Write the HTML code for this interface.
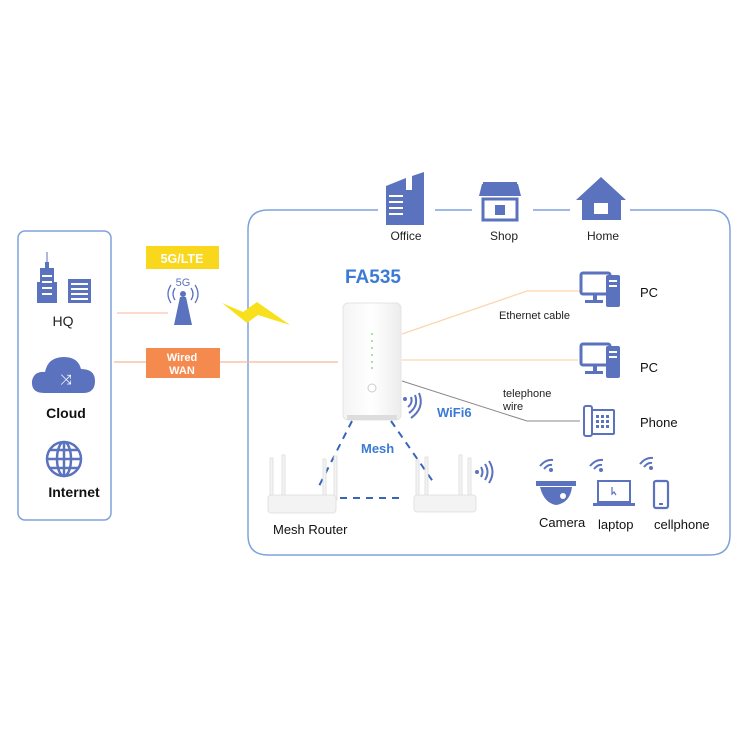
<!DOCTYPE html>
<html><head><meta charset="utf-8"><style>
html,body{margin:0;padding:0;background:#fff}
svg{display:block}
text{font-family:"Liberation Sans",sans-serif}
</style></head><body>
<svg width="750" height="750" viewBox="0 0 750 750" xmlns="http://www.w3.org/2000/svg">
<defs>
<linearGradient id="rg" x1="0" x2="1"><stop offset="0" stop-color="#f4f4f4"/><stop offset="0.5" stop-color="#fff"/><stop offset="1" stop-color="#ececec"/></linearGradient>
</defs>
<!-- left box -->
<rect x="18" y="231" width="93" height="289" rx="7" fill="none" stroke="#7ea3dc" stroke-width="1.5"/>
<!-- right box with gaps -->
<path d="M378 210 H268 Q248 210 248 230 V535 Q248 555 268 555 H710 Q730 555 730 535 V230 Q730 210 710 210 H630" fill="none" stroke="#7ea3dc" stroke-width="1.5"/>
<line x1="435" y1="210" x2="472" y2="210" stroke="#7ea3dc" stroke-width="1.5"/>
<line x1="533" y1="210" x2="570" y2="210" stroke="#7ea3dc" stroke-width="1.5"/>

<g fill="#5b72bf">
<!-- HQ -->
<rect x="40" y="268" width="14" height="35"/><rect x="45" y="262" width="4" height="6"/><rect x="46.5" y="252" width="1" height="10"/>
<rect x="37" y="282" width="3" height="21"/><rect x="54" y="282" width="3" height="21"/>
<rect x="68" y="279" width="23" height="24"/>
</g>
<g fill="#fff"><rect x="42" y="275" width="10" height="2"/><rect x="42" y="281" width="10" height="2"/><rect x="42" y="287" width="10" height="2"/><rect x="42" y="293" width="10" height="2"/>
<rect x="71" y="283" width="17" height="2"/><rect x="71" y="288" width="17" height="2"/><rect x="71" y="293" width="17" height="2"/><rect x="71" y="298" width="17" height="2"/></g>
<text x="63" y="326" font-size="14" text-anchor="middle" fill="#222">HQ</text>
<!-- Cloud -->
<path d="M44 393 Q31 393 32 381 Q34 371 45 372 Q48 357 64 357 Q78 357 81 369 Q95 369 95 381 Q95 393 83 393 Z" fill="#5b72bf"/>
<text x="66" y="384" font-size="14" text-anchor="middle" fill="#fff">⤨</text>
<text x="66" y="418" font-size="14" font-weight="bold" text-anchor="middle" fill="#111">Cloud</text>
<!-- Globe -->
<g fill="none" stroke="#5b72bf" stroke-width="2.5"><circle cx="64" cy="459" r="17"/><ellipse cx="64" cy="459" rx="7" ry="17"/><line x1="47" y1="459" x2="81" y2="459"/><line x1="50" y1="450" x2="78" y2="450"/><line x1="50" y1="468" x2="78" y2="468"/><line x1="64" y1="442" x2="64" y2="476"/></g>
<text x="74" y="497" font-size="14" font-weight="bold" text-anchor="middle" fill="#111">Internet</text>

<!-- 5G/LTE -->
<rect x="146" y="246" width="73" height="23" fill="#f9d71c"/>
<text x="182" y="263" font-size="12.5" font-weight="bold" text-anchor="middle" fill="#fff">5G/LTE</text>
<line x1="117" y1="313" x2="168" y2="313" stroke="#f5b79a" stroke-width="1"/>
<text x="183" y="286" font-size="11" text-anchor="middle" fill="#5b72bf">5G</text>
<circle cx="183" cy="294" r="3" fill="#5b72bf"/>
<g fill="none" stroke="#5b72bf" stroke-width="1.3"><path d="M175 288 Q171 294 175 300"/><path d="M171 285 Q165 294 171 303"/><path d="M191 288 Q195 294 191 300"/><path d="M195 285 Q201 294 195 303"/></g>
<path d="M180 297 L186 297 L192 325 L174 325 Z" fill="#5b72bf"/>
<path d="M222 303 L243 312 L257 302 L290 325 L258 315 L247 323 Z" fill="#f9e01c"/>
<!-- Wired WAN -->
<line x1="114" y1="362" x2="338" y2="362" stroke="#f7b996" stroke-width="1.3"/>
<rect x="146" y="348" width="74" height="30" fill="#f58a4e"/>
<text x="182" y="361" font-size="11" font-weight="bold" text-anchor="middle" fill="#fff">Wired</text>
<text x="182" y="374" font-size="11" font-weight="bold" text-anchor="middle" fill="#fff">WAN</text>

<!-- top icons -->
<g fill="#5b72bf">
<path d="M386 186 L406 178 L406 225 L386 225 Z"/><rect x="406" y="190" width="6" height="35"/><path d="M412 176 L424 172 L424 225 L412 225Z"/>
<path d="M479 196 L482 184 L518 184 L521 196 Z"/><rect x="483" y="182" width="34" height="3"/>
<rect x="483" y="199" width="34" height="21" fill="none" stroke="#5b72bf" stroke-width="3"/><rect x="495" y="205" width="10" height="10"/>
<path d="M576 200 L601 177 L626 200 L621 200 L621 220 L582 220 L582 200 Z"/>
</g>
<g fill="#fff"><rect x="389" y="195" width="14" height="2"/><rect x="389" y="201" width="14" height="2"/><rect x="389" y="207" width="14" height="2"/><rect x="389" y="213" width="14" height="2"/><rect x="594" y="203" width="14" height="11"/></g>
<text x="406" y="240" font-size="12" text-anchor="middle" fill="#222">Office</text>
<text x="504" y="240" font-size="12" text-anchor="middle" fill="#222">Shop</text>
<text x="603" y="240" font-size="12" text-anchor="middle" fill="#222">Home</text>

<!-- FA535 -->
<text x="373" y="283" font-size="19" font-weight="bold" text-anchor="middle" fill="#3b7bd6">FA535</text>
<rect x="343" y="303" width="58" height="117" rx="5" fill="url(#rg)" stroke="#e4e4e4"/>
<rect x="347" y="415" width="50" height="5" fill="#ddd"/>
<g fill="#5fd35f"><circle cx="372" cy="334" r="0.9"/><circle cx="372" cy="341" r="0.9"/><circle cx="372" cy="348" r="0.9"/><circle cx="372" cy="355" r="0.9"/><circle cx="372" cy="362" r="0.9"/><circle cx="372" cy="368" r="0.9"/></g>
<circle cx="372" cy="388" r="4" fill="none" stroke="#ccc"/>

<!-- connections -->
<polyline points="402,334 527,291 580,291" fill="none" stroke="#fcd6ad" stroke-width="1.2"/>
<line x1="402" y1="360" x2="578" y2="360" stroke="#fcd6ad" stroke-width="1.2"/>
<polyline points="402,381 527,421 580,421" fill="none" stroke="#888" stroke-width="1"/>
<text x="499" y="319" font-size="11" fill="#222">Ethernet cable</text>
<text x="503" y="397" font-size="11" fill="#222">telephone</text>
<text x="503" y="410" font-size="11" fill="#222">wire</text>

<!-- PCs -->
<g id="pc" fill="#5b72bf">
<rect x="581" y="273" width="29" height="21" rx="2" fill="none" stroke="#5b72bf" stroke-width="3"/>
<rect x="593" y="294" width="4" height="6"/><rect x="585" y="300" width="18" height="3"/>
<rect x="606" y="275" width="14" height="32" rx="2"/>
</g>
<rect x="609" y="280" width="8" height="2" fill="#fff"/><rect x="609" y="285" width="8" height="2" fill="#fff"/>
<use href="#pc" y="71"/>
<rect x="609" y="351" width="8" height="2" fill="#fff"/><rect x="609" y="356" width="8" height="2" fill="#fff"/>
<text x="640" y="297" font-size="13" fill="#111">PC</text>
<text x="640" y="372" font-size="13" fill="#111">PC</text>
<!-- Phone -->
<rect x="584" y="406" width="8" height="30" rx="2" fill="none" stroke="#5b72bf" stroke-width="2"/>
<rect x="592" y="410" width="22" height="24" rx="1" fill="none" stroke="#5b72bf" stroke-width="2"/>
<g fill="#5b72bf"><rect x="596" y="415" width="3" height="3"/><rect x="601" y="415" width="3" height="3"/><rect x="606" y="415" width="3" height="3"/><rect x="596" y="420" width="3" height="3"/><rect x="601" y="420" width="3" height="3"/><rect x="606" y="420" width="3" height="3"/><rect x="596" y="425" width="3" height="3"/><rect x="601" y="425" width="3" height="3"/><rect x="606" y="425" width="3" height="3"/></g>
<text x="640" y="427" font-size="13" fill="#111">Phone</text>

<!-- WiFi6 -->
<g fill="none" stroke="#5b72bf" stroke-width="2"><path d="M408 407 Q413 403 411 397"/><path d="M409 413 Q419 406 415 395"/><path d="M411 418 Q425 408 419 393"/></g>
<circle cx="405" cy="399" r="2" fill="#5b72bf"/>
<text x="437" y="417" font-size="13" font-weight="bold" fill="#3b7bd6">WiFi6</text>
<text x="361" y="453" font-size="13" font-weight="bold" fill="#3b7bd6">Mesh</text>
<g stroke="#3a64b8" stroke-width="2" stroke-dasharray="7,6" fill="none">
<line x1="352" y1="421" x2="318" y2="488"/><line x1="391" y1="421" x2="434" y2="483"/><line x1="340" y1="498" x2="402" y2="498"/>
</g>

<!-- mesh routers -->
<g fill="#f3f3f3" stroke="#ddd" stroke-width="0.8">
<rect x="270" y="458" width="3" height="42"/><rect x="282" y="455" width="3" height="43"/><rect x="323" y="459" width="3" height="40"/><rect x="334" y="456" width="3" height="44"/>
<rect x="268" y="495" width="68" height="18" rx="3"/>
<rect x="416" y="460" width="3" height="40"/><rect x="425" y="457" width="3" height="42"/><rect x="459" y="455" width="3" height="43"/><rect x="468" y="458" width="3" height="42"/>
<rect x="414" y="495" width="62" height="17" rx="3"/>
</g>
<text x="273" y="534" font-size="13" fill="#111">Mesh Router</text>
<g fill="none" stroke="#5b72bf" stroke-width="2"><path d="M481 467 Q484 472 481 477"/><path d="M485 464 Q490 472 485 480"/><path d="M489 461 Q496 472 489 483"/></g>
<circle cx="477" cy="472" r="2" fill="#5b72bf"/>

<!-- devices wifi -->
<g fill="none" stroke="#5b72bf" stroke-width="2">
<path d="M540 466 Q546 459 553 460"/><path d="M544 469 Q548 464 552 465"/>
<path d="M590 466 Q596 459 603 460"/><path d="M594 469 Q598 464 602 465"/>
<path d="M640 464 Q646 457 653 458"/><path d="M644 467 Q648 462 652 463"/>
</g>
<circle cx="551" cy="470" r="2" fill="#5b72bf"/><circle cx="601" cy="470" r="2" fill="#5b72bf"/><circle cx="651" cy="468" r="2" fill="#5b72bf"/>
<!-- camera -->
<rect x="536" y="481" width="40" height="5" fill="#5b72bf"/>
<path d="M540 487 L572 487 Q570 503 556 505 Q544 503 540 487 Z" fill="#5b72bf"/>
<circle cx="563" cy="496" r="3" fill="#fff"/>
<!-- laptop -->
<rect x="598" y="481" width="32" height="21" fill="none" stroke="#5b72bf" stroke-width="2"/>
<rect x="593" y="503" width="42" height="3" fill="#5b72bf"/>
<path d="M612 487 L612 494 L614 492 L616 495" stroke="#5b72bf" fill="none" stroke-width="1.2"/>
<!-- phone -->
<rect x="654" y="481" width="14" height="27" rx="2" fill="none" stroke="#5b72bf" stroke-width="2.2"/>
<rect x="659" y="503" width="4" height="2" fill="#5b72bf"/>
<text x="539" y="527" font-size="13" fill="#111">Camera</text>
<text x="598" y="529" font-size="13" fill="#111">laptop</text>
<text x="654" y="529" font-size="13" fill="#111">cellphone</text>
</svg>
</body></html>
